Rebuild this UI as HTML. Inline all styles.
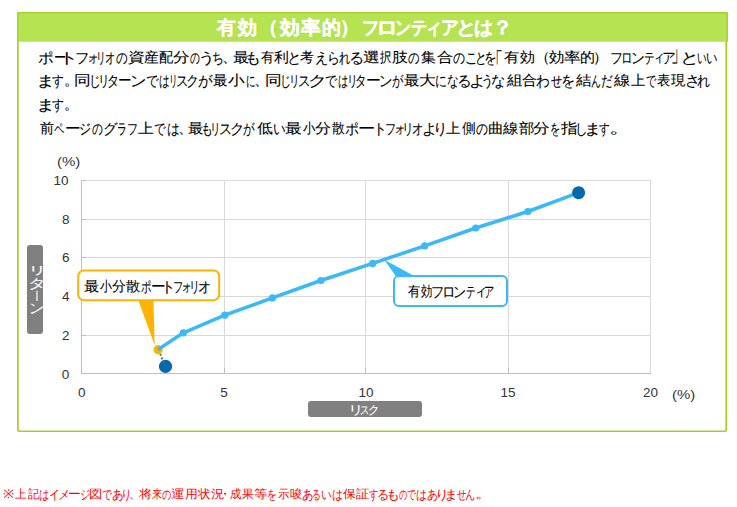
<!DOCTYPE html>
<html><head><meta charset="utf-8">
<style>
html,body{margin:0;padding:0;background:#fff;width:737px;height:507px;overflow:hidden;position:relative;font-family:"Liberation Sans",sans-serif;}
.t{position:absolute;white-space:nowrap;line-height:1;transform-origin:0 0;-webkit-text-stroke:0.1px currentColor;}
.cj{position:absolute;left:0;white-space:nowrap;line-height:1;-webkit-text-stroke:0.1px currentColor;}
.cj span{position:absolute;top:0;transform-origin:0 0;}
</style></head><body>


<svg width="737" height="507" style="position:absolute;left:0;top:0">
  <rect x="17.85" y="12.85" width="708.4" height="418.4" rx="1.2" fill="none" stroke="#a0d21e" stroke-width="1.7"/>
  <rect x="17" y="12" width="711" height="29.8" rx="1.2" fill="#b5e352"/>
  <path d="M17.75,41.8 V13.5 Q17.75,12.75 18.5,12.75 H726.5 Q727.25,12.75 727.25,13.5 V41.8" fill="none" stroke="#a3d32a" stroke-width="1.5"/>
  <g shape-rendering="crispEdges">
    <line x1="224.5" y1="180" x2="224.5" y2="373" stroke="#d9d9d9" stroke-width="1"/>
    <line x1="365.5" y1="180" x2="365.5" y2="373" stroke="#d9d9d9" stroke-width="1"/>
    <line x1="508.5" y1="180" x2="508.5" y2="373" stroke="#d9d9d9" stroke-width="1"/>
    <line x1="650.5" y1="180" x2="650.5" y2="374" stroke="#d9d9d9" stroke-width="1"/>
    <line x1="81" y1="180.5" x2="651" y2="180.5" stroke="#d9d9d9" stroke-width="1"/>
    <line x1="81" y1="219.5" x2="651" y2="219.5" stroke="#d9d9d9" stroke-width="1"/>
    <line x1="81" y1="257.5" x2="651" y2="257.5" stroke="#d9d9d9" stroke-width="1"/>
    <line x1="81" y1="296.5" x2="651" y2="296.5" stroke="#d9d9d9" stroke-width="1"/>
    <line x1="81" y1="335.5" x2="651" y2="335.5" stroke="#d9d9d9" stroke-width="1"/>
    <!-- ticks -->
    <g stroke="#bfbfbf" stroke-width="1">
      <line x1="81" y1="180.5" x2="86" y2="180.5"/>
      <line x1="81" y1="219.5" x2="86" y2="219.5"/>
      <line x1="81" y1="257.5" x2="86" y2="257.5"/>
      <line x1="81" y1="296.5" x2="86" y2="296.5"/>
      <line x1="81" y1="335.5" x2="86" y2="335.5"/>
      <line x1="224.5" y1="368" x2="224.5" y2="373"/>
      <line x1="365.5" y1="368" x2="365.5" y2="373"/>
      <line x1="508.5" y1="368" x2="508.5" y2="373"/>
    </g>
    <line x1="81.5" y1="180" x2="81.5" y2="374" stroke="#bfbfbf" stroke-width="1"/>
    <line x1="81" y1="373.5" x2="651" y2="373.5" stroke="#bfbfbf" stroke-width="1"/>
  </g>
  <!-- curve -->
  <circle cx="165.5" cy="366.4" r="6.6" fill="#006aad"/>
  <g fill="#666">
    <circle cx="160.6" cy="354.8" r="1.1"/>
    <circle cx="162.0" cy="358.4" r="1.1"/>
    <circle cx="163.5" cy="362.0" r="1.1"/>
  </g>
  <!-- orange callout -->
  <path d="M138.2,300 L153.4,300 L154.7,345.2 Z" fill="#fbb500"/>
  <rect x="78.2" y="270.4" width="141.0" height="29.8" rx="5.5" ry="6" fill="#fff" stroke="#fbb500" stroke-width="2"/>
  <circle cx="158.1" cy="349.7" r="4.6" fill="#fbb500"/>
  <polyline fill="none" stroke="#3ab8f8" stroke-width="3.5" stroke-linejoin="round"
    points="158,349.6 183.3,332.8 224.8,315.2 272.4,297.9 320.9,280.5 372.7,263.4 424.7,245.9 475.7,228 527.9,211.5 574,194.4"/>
  <g fill="#3ab8f8">
    <circle cx="183.3" cy="332.8" r="3.6"/>
    <circle cx="224.8" cy="315.2" r="3.6"/>
    <circle cx="272.4" cy="297.9" r="3.6"/>
    <circle cx="320.9" cy="280.5" r="3.6"/>
    <circle cx="372.7" cy="263.4" r="3.6"/>
    <circle cx="424.7" cy="245.9" r="3.6"/>
    <circle cx="475.7" cy="228" r="3.6"/>
    <circle cx="527.9" cy="211.5" r="3.6"/>
  </g>
  <circle cx="578.6" cy="192.7" r="6.5" fill="#006aad"/>
  <!-- blue callout -->
  <path d="M384.3,259.8 L396.5,277 L416,277 Z" fill="#3ab8f8"/>
  <rect x="394" y="276.1" width="113" height="29.8" rx="5" ry="5" fill="#fff" stroke="#3ab8f8" stroke-width="2"/>
  <!-- axis title boxes -->
  <rect x="27" y="245" width="16" height="89" rx="3" ry="3" fill="#808080"/>
  <rect x="308" y="401" width="114" height="16" rx="3" ry="3" fill="#808080"/>
  <rect x="36.3" y="290.8" width="1.3" height="10.2" fill="#f4f4f4"/>
</svg>




<div class="cj" id="h1" style="top:18.10px;font-size:19px;color:#fff;font-weight:bold;-webkit-text-stroke:0.3px #fff;"><span style="left:217.10px;transform:scaleX(0.984);">有</span><span style="left:237.70px;">効</span><span style="left:259.30px;">（</span><span style="left:280.00px;transform:scaleX(1.044);">効</span><span style="left:300.70px;transform:scaleX(1.047);">率</span><span style="left:321.50px;">的</span><span style="left:340.00px;">）</span><span style="left:362.20px;transform:scaleX(0.900);">フ</span><span style="left:375.96px;transform:scaleX(1.146);">ロ</span><span style="left:394.51px;transform:scaleX(0.844);">ン</span><span style="left:410.75px;transform:scaleX(0.847);">テ</span><span style="left:425.20px;transform:scaleX(0.900);">ィ</span><span style="left:440.56px;transform:scaleX(0.941);">ア</span><span style="left:456.22px;transform:scaleX(1.062);">と</span><span style="left:474.10px;">は</span><span style="left:491.60px;transform:scaleX(1.100);">？</span></div>
<div class="cj" id="l1" style="top:49.90px;font-size:14px;color:#000;"><span style="left:38.15px;transform:scale(1.150,1.1);transform-origin:0 0.12em;">ポ</span><span style="left:53.62px;transform:scaleX(0.875);">ー</span><span style="left:59.45px;transform:scale(1.391,1.1);transform-origin:0 0.12em;">ト</span><span style="left:75.15px;transform:scale(1.055,1.1);transform-origin:0 0.12em;">フ</span><span style="left:87.47px;transform:scaleX(0.867);">ォ</span><span style="left:96.26px;transform:scale(0.712,1.1);transform-origin:0 0.12em;">リ</span><span style="left:104.74px;transform:scale(0.758,1.1);transform-origin:0 0.12em;">オ</span><span style="left:116.00px;transform:scale(0.850,1.1);transform-origin:0 0.12em;">の</span><span style="left:128.10px;transform:scaleX(1.198);">資</span><span style="left:144.43px;transform:scaleX(1.067);">産</span><span style="left:158.68px;transform:scaleX(1.015);">配</span><span style="left:173.10px;transform:scaleX(1.198);">分</span><span style="left:190.10px;transform:scale(0.721,1.1);transform-origin:0 0.12em;">の</span><span style="left:197.85px;transform:scale(1.250,1.1);transform-origin:0 0.12em;">う</span><span style="left:212.14px;transform:scale(0.864,1.1);transform-origin:0 0.12em;">ち</span><span style="left:221.76px;transform:scaleX(1.070);">、</span><span style="left:232.55px;transform:scaleX(1.150);">最</span><span style="left:245.40px;transform:scale(1.167,1.1);transform-origin:0 0.12em;">も</span><span style="left:260.80px;transform:scaleX(0.931);">有</span><span style="left:274.30px;transform:scaleX(1.062);">利</span><span style="left:287.39px;transform:scale(1.056,1.1);transform-origin:0 0.12em;">と</span><span style="left:300.40px;transform:scaleX(0.986);">考</span><span style="left:314.63px;transform:scale(0.967,1.1);transform-origin:0 0.12em;">え</span><span style="left:326.70px;transform:scale(0.950,1.1);transform-origin:0 0.12em;">ら</span><span style="left:338.67px;transform:scale(0.831,1.1);transform-origin:0 0.12em;">れ</span><span style="left:349.48px;transform:scale(1.110,1.1);transform-origin:0 0.12em;">る</span><span style="left:363.00px;transform:scaleX(1.198);">選</span><span style="left:380.00px;transform:scaleX(0.815);">択</span><span style="left:392.00px;transform:scaleX(1.146);">肢</span><span style="left:408.30px;transform:scale(0.836,1.1);transform-origin:0 0.12em;">の</span><span style="left:421.40px;transform:scaleX(1.062);">集</span><span style="left:436.60px;transform:scaleX(1.146);">合</span><span style="left:452.90px;transform:scale(0.879,1.1);transform-origin:0 0.12em;">の</span><span style="left:464.73px;transform:scale(0.933,1.1);transform-origin:0 0.12em;">こ</span><span style="left:474.67px;transform:scale(0.867,1.1);transform-origin:0 0.12em;">と</span><span style="left:483.78px;transform:scale(0.909,1.1);transform-origin:0 0.12em;">を</span><span style="left:488.44px;transform:scale(1.070,2);transform-origin:0 0.07em;">「</span><span style="left:503.80px;transform:scaleX(1.100);">有</span><span style="left:519.50px;transform:scaleX(1.070);">効</span><span style="left:534.87px;transform:scaleX(1.070);">（</span><span style="left:549.40px;transform:scaleX(1.100);">効</span><span style="left:563.90px;transform:scaleX(1.198);">率</span><span style="left:580.13px;transform:scaleX(1.070);">的</span><span style="left:592.59px;transform:scaleX(1.070);">）</span><span style="left:610.05px;transform:scale(0.955,1.1);transform-origin:0 0.12em;">フ</span><span style="left:621.22px;transform:scale(0.840,1.1);transform-origin:0 0.12em;">ロ</span><span style="left:630.68px;transform:scale(1.009,1.1);transform-origin:0 0.12em;">ン</span><span style="left:644.42px;transform:scale(0.783,1.1);transform-origin:0 0.12em;">テ</span><span style="left:653.45px;transform:scaleX(0.850);">ィ</span><span style="left:662.18px;transform:scale(1.009,1.1);transform-origin:0 0.12em;">ア</span><span style="left:671.35px;transform:scale(1.070,2);transform-origin:0 0.93em;">」</span><span style="left:680.12px;transform:scale(1.391,1.1);transform-origin:0 0.12em;">と</span><span style="left:696.80px;transform:scale(0.700,1.1);transform-origin:0 0.12em;">い</span><span style="left:706.47px;transform:scale(0.833,1.1);transform-origin:0 0.12em;">い</span></div>
<div class="cj" id="l2" style="top:73.00px;font-size:14px;color:#000;"><span style="left:35.64px;transform:scale(1.387,1.1);transform-origin:0 0.12em;">ま</span><span style="left:52.30px;transform:scale(0.854,1.1);transform-origin:0 0.12em;">す</span><span style="left:63.73px;transform:scaleX(1.070);">。</span><span style="left:73.90px;transform:scaleX(1.198);">同</span><span style="left:88.80px;transform:scale(0.867,1.1);transform-origin:0 0.12em;">じ</span><span style="left:98.09px;transform:scale(0.838,1.1);transform-origin:0 0.12em;">リ</span><span style="left:106.92px;transform:scale(0.890,1.1);transform-origin:0 0.12em;">タ</span><span style="left:118.03px;transform:scaleX(0.967);">ー</span><span style="left:129.60px;transform:scale(1.200,1.1);transform-origin:0 0.12em;">ン</span><span style="left:145.68px;transform:scale(0.915,1.1);transform-origin:0 0.12em;">で</span><span style="left:159.13px;transform:scale(0.767,1.1);transform-origin:0 0.12em;">は</span><span style="left:168.62px;transform:scale(0.625,1.1);transform-origin:0 0.12em;">リ</span><span style="left:175.99px;transform:scale(0.909,1.1);transform-origin:0 0.12em;">ス</span><span style="left:186.40px;transform:scale(0.950,1.1);transform-origin:0 0.12em;">ク</span><span style="left:198.13px;transform:scale(1.069,1.1);transform-origin:0 0.12em;">が</span><span style="left:213.47px;transform:scaleX(1.033);">最</span><span style="left:228.30px;transform:scaleX(1.186);">小</span><span style="left:245.61px;transform:scale(0.692,1.1);transform-origin:0 0.12em;">に</span><span style="left:253.86px;transform:scaleX(1.070);">、</span><span style="left:265.40px;transform:scaleX(1.198);">同</span><span style="left:280.17px;transform:scale(0.811,1.1);transform-origin:0 0.12em;">じ</span><span style="left:288.98px;transform:scale(0.775,1.1);transform-origin:0 0.12em;">リ</span><span style="left:297.99px;transform:scale(0.909,1.1);transform-origin:0 0.12em;">ス</span><span style="left:307.52px;transform:scale(1.391,1.1);transform-origin:0 0.12em;">ク</span><span style="left:325.32px;transform:scale(0.877,1.1);transform-origin:0 0.12em;">で</span><span style="left:338.26px;transform:scale(0.742,1.1);transform-origin:0 0.12em;">は</span><span style="left:346.98px;transform:scale(0.775,1.1);transform-origin:0 0.12em;">リ</span><span style="left:355.22px;transform:scale(0.840,1.1);transform-origin:0 0.12em;">タ</span><span style="left:365.64px;transform:scaleX(1.058);">ー</span><span style="left:378.84px;transform:scale(0.982,1.1);transform-origin:0 0.12em;">ン</span><span style="left:392.17px;transform:scale(0.831,1.1);transform-origin:0 0.12em;">が</span><span style="left:404.09px;transform:scaleX(1.108);">最</span><span style="left:418.71px;transform:scaleX(1.192);">大</span><span style="left:434.73px;transform:scale(0.875,1.1);transform-origin:0 0.12em;">に</span><span style="left:446.64px;transform:scale(0.858,1.1);transform-origin:0 0.12em;">な</span><span style="left:457.06px;transform:scale(1.070,1.1);transform-origin:0 0.12em;">る</span><span style="left:468.83px;transform:scale(1.233,1.1);transform-origin:0 0.12em;">よ</span><span style="left:481.06px;transform:scale(0.912,1.1);transform-origin:0 0.12em;">う</span><span style="left:491.45px;transform:scale(1.050,1.1);transform-origin:0 0.12em;">な</span><span style="left:506.50px;transform:scaleX(1.108);">組</span><span style="left:522.30px;transform:scaleX(1.062);">合</span><span style="left:536.49px;transform:scale(1.008,1.1);transform-origin:0 0.12em;">わ</span><span style="left:551.00px;transform:scale(0.823,1.1);transform-origin:0 0.12em;">せ</span><span style="left:561.05px;transform:scale(1.027,1.1);transform-origin:0 0.12em;">を</span><span style="left:575.80px;transform:scaleX(1.100);">結</span><span style="left:590.77px;transform:scale(0.725,1.1);transform-origin:0 0.12em;">ん</span><span style="left:600.75px;transform:scale(0.846,1.1);transform-origin:0 0.12em;">だ</span><span style="left:614.00px;transform:scaleX(1.169);">線</span><span style="left:630.60px;transform:scaleX(1.021);">上</span><span style="left:645.55px;transform:scale(0.746,1.1);transform-origin:0 0.12em;">で</span><span style="left:657.40px;transform:scaleX(0.946);">表</span><span style="left:671.10px;transform:scaleX(1.021);">現</span><span style="left:684.58px;transform:scale(1.111,1.1);transform-origin:0 0.12em;">さ</span><span style="left:697.25px;transform:scale(0.954,1.1);transform-origin:0 0.12em;">れ</span></div>
<div class="cj" id="l3" style="top:96.80px;font-size:14px;color:#000;"><span style="left:35.64px;transform:scale(1.387,1.1);transform-origin:0 0.12em;">ま</span><span style="left:52.30px;transform:scale(0.869,1.1);transform-origin:0 0.12em;">す</span><span style="left:63.95px;transform:scaleX(1.050);">。</span></div>
<div class="cj" id="l4" style="top:120.70px;font-size:14px;color:#000;"><span style="left:39.70px;transform:scaleX(1.004);">前</span><span style="left:54.41px;transform:scale(0.747,1.1);transform-origin:0 0.12em;">ペ</span><span style="left:65.15px;transform:scaleX(1.118);">ー</span><span style="left:79.32px;transform:scale(0.883,1.1);transform-origin:0 0.12em;">ジ</span><span style="left:92.20px;transform:scale(0.793,1.1);transform-origin:0 0.12em;">の</span><span style="left:102.58px;transform:scale(1.058,1.1);transform-origin:0 0.12em;">グ</span><span style="left:117.34px;transform:scale(0.730,1.1);transform-origin:0 0.12em;">ラ</span><span style="left:126.69px;transform:scale(0.809,1.1);transform-origin:0 0.12em;">フ</span><span style="left:137.80px;transform:scaleX(1.136);">上</span><span style="left:154.25px;transform:scale(0.852,1.1);transform-origin:0 0.12em;">で</span><span style="left:166.65px;transform:scale(0.923,1.1);transform-origin:0 0.12em;">は</span><span style="left:177.91px;transform:scaleX(1.070);">、</span><span style="left:187.60px;transform:scaleX(1.100);">最</span><span style="left:200.67px;transform:scale(0.878,1.1);transform-origin:0 0.12em;">も</span><span style="left:210.28px;transform:scale(0.775,1.1);transform-origin:0 0.12em;">リ</span><span style="left:219.25px;transform:scale(0.955,1.1);transform-origin:0 0.12em;">ス</span><span style="left:229.98px;transform:scale(1.060,1.1);transform-origin:0 0.12em;">ク</span><span style="left:243.25px;transform:scale(0.848,1.1);transform-origin:0 0.12em;">が</span><span style="left:256.52px;transform:scaleX(1.133);">低</span><span style="left:272.86px;transform:scale(0.918,1.1);transform-origin:0 0.12em;">い</span><span style="left:285.00px;transform:scaleX(1.198);">最</span><span style="left:302.80px;transform:scaleX(0.886);">小</span><span style="left:315.45px;transform:scaleX(1.150);">分</span><span style="left:331.80px;transform:scaleX(0.914);">散</span><span style="left:344.97px;transform:scale(1.026,1.1);transform-origin:0 0.12em;">ポ</span><span style="left:358.49px;transform:scaleX(1.230);">ー</span><span style="left:372.83px;transform:scale(1.033,1.1);transform-origin:0 0.12em;">ト</span><span style="left:384.78px;transform:scale(0.818,1.1);transform-origin:0 0.12em;">フ</span><span style="left:394.33px;transform:scaleX(0.833);">ォ</span><span style="left:402.39px;transform:scale(0.838,1.1);transform-origin:0 0.12em;">リ</span><span style="left:412.17px;transform:scale(0.833,1.1);transform-origin:0 0.12em;">オ</span><span style="left:422.18px;transform:scale(1.111,1.1);transform-origin:0 0.12em;">よ</span><span style="left:432.61px;transform:scale(1.062,1.1);transform-origin:0 0.12em;">り</span><span style="left:445.70px;transform:scaleX(1.029);">上</span><span style="left:461.50px;transform:scaleX(0.977);">側</span><span style="left:475.60px;transform:scale(0.871,1.1);transform-origin:0 0.12em;">の</span><span style="left:488.09px;transform:scaleX(1.109);">曲</span><span style="left:502.80px;transform:scaleX(1.100);">線</span><span style="left:518.50px;transform:scaleX(1.108);">部</span><span style="left:533.10px;transform:scaleX(1.198);">分</span><span style="left:549.61px;transform:scale(0.745,1.1);transform-origin:0 0.12em;">を</span><span style="left:560.70px;transform:scaleX(1.185);">指</span><span style="left:574.70px;transform:scale(0.933,1.1);transform-origin:0 0.12em;">し</span><span style="left:583.51px;transform:scale(1.264,1.1);transform-origin:0 0.12em;">ま</span><span style="left:598.81px;transform:scale(0.778,1.1);transform-origin:0 0.12em;">す</span><span style="left:608.70px;transform:scaleX(1.619);">。</span></div>
<div class="cj" id="c1" style="top:279.60px;font-size:13.5px;color:#000;"><span style="left:84.12px;transform:scaleX(1.079);">最</span><span style="left:99.50px;transform:scaleX(0.854);">小</span><span style="left:111.80px;transform:scaleX(0.996);">分</span><span style="left:126.10px;transform:scaleX(1.018);">散</span><span style="left:140.95px;transform:scale(0.752,1.08);transform-origin:0 0.12em;">ポ</span><span style="left:151.03px;transform:scaleX(1.040);">ー</span><span style="left:160.69px;transform:scale(1.042,1.08);transform-origin:0 0.12em;">ト</span><span style="left:172.76px;transform:scale(0.741,1.08);transform-origin:0 0.12em;">フ</span><span style="left:181.41px;transform:scaleX(0.794);">ォ</span><span style="left:189.16px;transform:scale(0.781,1.08);transform-origin:0 0.12em;">リ</span><span style="left:198.15px;transform:scale(0.950,1.08);transform-origin:0 0.12em;">オ</span></div>
<div class="cj" id="c2" style="top:285.00px;font-size:13.5px;color:#000;"><span style="left:407.70px;transform:scaleX(0.881);">有</span><span style="left:420.50px;transform:scaleX(0.812);">効</span><span style="left:431.44px;transform:scale(0.959,1.08);transform-origin:0 0.12em;">フ</span><span style="left:442.37px;transform:scale(0.965,1.08);transform-origin:0 0.12em;">ロ</span><span style="left:453.42px;transform:scale(0.941,1.08);transform-origin:0 0.12em;">ン</span><span style="left:466.31px;transform:scale(0.688,1.08);transform-origin:0 0.12em;">テ</span><span style="left:473.73px;transform:scaleX(0.956);">ィ</span><span style="left:484.13px;transform:scale(0.736,1.08);transform-origin:0 0.12em;">ア</span></div>
<div class="cj" id="fn" style="top:487.90px;font-size:12px;color:#f00;-webkit-text-stroke:0;"><span style="left:2.68px;transform:scaleX(1.120);">※</span><span style="left:15.20px;transform:scaleX(0.942);">上</span><span style="left:27.70px;transform:scaleX(0.942);">記</span><span style="left:39.35px;transform:scale(0.850,1.08);transform-origin:0 0.12em;">は</span><span style="left:49.00px;transform:scale(0.900,1.08);transform-origin:0 0.12em;">イ</span><span style="left:58.19px;transform:scale(1.011,1.08);transform-origin:0 0.12em;">メ</span><span style="left:68.43px;transform:scaleX(1.068);">ー</span><span style="left:79.67px;transform:scale(0.857,1.08);transform-origin:0 0.12em;">ジ</span><span style="left:89.18px;transform:scaleX(1.120);">図</span><span style="left:101.97px;transform:scale(0.827,1.08);transform-origin:0 0.12em;">で</span><span style="left:112.13px;transform:scale(0.970,1.08);transform-origin:0 0.12em;">あ</span><span style="left:121.35px;transform:scale(0.883,1.08);transform-origin:0 0.12em;">り</span><span style="left:128.50px;">、</span><span style="left:139.20px;transform:scaleX(1.120);">将</span><span style="left:151.70px;transform:scaleX(0.845);">来</span><span style="left:162.20px;transform:scale(0.758,1.08);transform-origin:0 0.12em;">の</span><span style="left:171.38px;transform:scaleX(1.120);">運</span><span style="left:185.03px;transform:scaleX(1.070);">用</span><span style="left:198.00px;transform:scaleX(1.027);">状</span><span style="left:210.50px;transform:scaleX(1.118);">況</span><span style="left:219.00px;">・</span><span style="left:229.65px;transform:scaleX(0.945);">成</span><span style="left:242.20px;transform:scaleX(0.983);">果</span><span style="left:254.08px;transform:scaleX(1.120);">等</span><span style="left:267.39px;transform:scale(0.810,1.08);transform-origin:0 0.12em;">を</span><span style="left:277.50px;transform:scaleX(0.942);">示</span><span style="left:290.00px;transform:scaleX(0.983);">唆</span><span style="left:302.04px;transform:scale(0.960,1.08);transform-origin:0 0.12em;">あ</span><span style="left:312.33px;transform:scale(0.733,1.08);transform-origin:0 0.12em;">る</span><span style="left:320.72px;transform:scale(0.882,1.08);transform-origin:0 0.12em;">い</span><span style="left:331.59px;transform:scale(0.910,1.08);transform-origin:0 0.12em;">は</span><span style="left:342.80px;transform:scaleX(1.073);">保</span><span style="left:355.80px;transform:scaleX(1.120);">証</span><span style="left:369.40px;transform:scale(0.782,1.08);transform-origin:0 0.12em;">す</span><span style="left:377.18px;transform:scale(1.011,1.08);transform-origin:0 0.12em;">る</span><span style="left:386.03px;transform:scale(1.157,1.08);transform-origin:0 0.12em;">も</span><span style="left:398.80px;transform:scale(0.675,1.08);transform-origin:0 0.12em;">の</span><span style="left:407.36px;transform:scale(0.736,1.08);transform-origin:0 0.12em;">で</span><span style="left:416.49px;transform:scale(0.910,1.08);transform-origin:0 0.12em;">は</span><span style="left:426.79px;transform:scale(0.910,1.08);transform-origin:0 0.12em;">あ</span><span style="left:434.55px;transform:scale(1.150,1.08);transform-origin:0 0.12em;">り</span><span style="left:443.80px;transform:scale(1.150,1.08);transform-origin:0 0.12em;">ま</span><span style="left:456.50px;transform:scale(0.773,1.08);transform-origin:0 0.12em;">せ</span><span style="left:465.34px;transform:scale(0.860,1.08);transform-origin:0 0.12em;">ん</span><span style="left:474.53px;transform:scaleX(1.467);">。</span></div>
<div class="cj" id="ht" style="top:404.00px;font-size:12px;color:#fff;"><span style="left:347.72px;transform:scaleX(1.294);">リ</span><span style="left:359.79px;transform:scaleX(0.776);">ス</span><span style="left:367.60px;transform:scaleX(0.960);">ク</span></div>
<div class="t" id="pct1" style="left:57.35px;top:155.00px;font-size:13px;color:#333;-webkit-text-stroke:0;transform:scaleX(1.153);">(%)</div>
<div class="t" id="y10" style="left:53.60px;top:173.90px;font-size:13.5px;color:#333;-webkit-text-stroke:0;">10</div>
<div class="t" id="y8" style="left:62.00px;top:212.70px;font-size:13.5px;color:#333;-webkit-text-stroke:0;">8</div>
<div class="t" id="y6" style="left:62.00px;top:251.30px;font-size:13.5px;color:#333;-webkit-text-stroke:0;">6</div>
<div class="t" id="y4" style="left:62.00px;top:290.00px;font-size:13.5px;color:#333;-webkit-text-stroke:0;">4</div>
<div class="t" id="y2" style="left:62.00px;top:328.80px;font-size:13.5px;color:#333;-webkit-text-stroke:0;">2</div>
<div class="t" id="y0" style="left:61.70px;top:367.80px;font-size:13.5px;color:#333;-webkit-text-stroke:0;">0</div>
<div class="t" id="x0" style="left:78.10px;top:385.70px;font-size:13.5px;color:#333;-webkit-text-stroke:0;">0</div>
<div class="t" id="x5" style="left:220.20px;top:385.70px;font-size:13.5px;color:#333;-webkit-text-stroke:0;">5</div>
<div class="t" id="x10" style="left:358.40px;top:386.20px;font-size:13.5px;color:#333;-webkit-text-stroke:0;">10</div>
<div class="t" id="x15" style="left:500.60px;top:385.70px;font-size:13.5px;color:#333;-webkit-text-stroke:0;">15</div>
<div class="t" id="x20" style="left:643.10px;top:385.70px;font-size:13.5px;color:#333;-webkit-text-stroke:0;">20</div>
<div class="t" id="pct2" style="left:671.55px;top:388.20px;font-size:13px;color:#333;-webkit-text-stroke:0;transform:scaleX(1.147);">(%)</div>
<div class="t" id="v1" style="left:27.55px;top:265.00px;font-size:12px;color:#fff;transform:scale(1.517,0.900);">リ</div>
<div class="t" id="v2" style="left:27.80px;top:276.95px;font-size:12px;color:#fff;transform:scale(1.450,1.055);">タ</div>
<div class="t" id="v4" style="left:28.73px;top:301.71px;font-size:12px;color:#fff;transform:scale(1.233,1.144);">ン</div>
</body></html>
